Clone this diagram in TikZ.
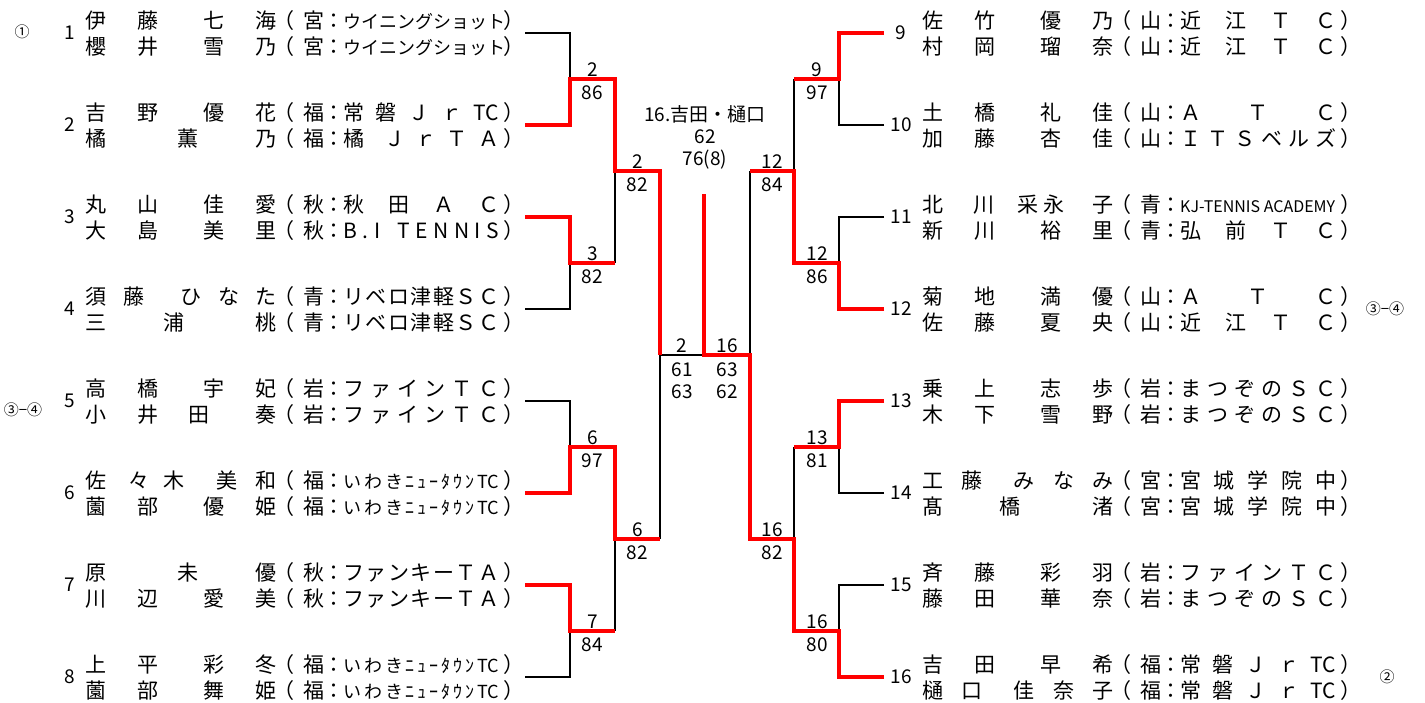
\documentclass[tikz,border=0pt]{standalone}
\usepackage{fontspec}
\setmainfont{Noto Sans CJK JP}

% one glyph (or group) placed at a fixed offset inside a row
\newcommand\at[2]{\rlap{\hspace*{#1pt}#2}}
\newcommand\nm[4]{\at{0}{#1}\at{52}{#2}\at{118}{#3}\at{170}{#4}}
\newcommand\hf{\hfill}
\newcommand\aff[2]{\at{188}{（}\at{218}{#1}\at{238}{：}\at{258}{\makebox[156pt][s]{#2}}\at{418}{）}}
\newcommand\sml{\fontsize{18}{18}\selectfont}
\newcommand\tny{\fontsize{16}{16}\selectfont}

% club names
\newcommand\clWin{\sml ウ\hf イ\hf ニ\hf ン\hf グ\hf シ\hf ョ\hf ッ\hf ト}
\newcommand\clJoban{常\hf 磐\hf Ｊ\hf ｒ\hf TC}
\newcommand\clIwaki{\sml い\hf わ\hf き\hf ﾆ\hf ｭ\hf ｰ\hf ﾀ\hf ｳ\hf ﾝ\hf TC}
\newcommand\clFine{フ\hf ァ\hf イ\hf ン\hf Ｔ\hf Ｃ}
\newcommand\clMatsu{ま\hf つ\hf ぞ\hf の\hf Ｓ\hf Ｃ}
\newcommand\clRibero{リ\hf ベ\hf ロ\hf 津\hf 軽\hf Ｓ\hf Ｃ}
\newcommand\clFunky{フ\hf ァ\hf ン\hf キ\hf ー\hf Ｔ\hf Ａ}
\newcommand\clOmi{近\hf 江\hf Ｔ\hf Ｃ}
\newcommand\clATC{Ａ\hf Ｔ\hf Ｃ}
\newcommand\clMiya{宮\hf 城\hf 学\hf 院\hf 中}

\tikzset{
  won/.style={red, line width=4pt},
  lost/.style={black, line width=2pt},
  pl/.style={font=\fontsize{21}{21}\selectfont, inner sep=0pt, anchor=base west},
  seed/.style={font=\fontsize{19}{19}\selectfont, inner sep=0pt},
  sc/.style={font=\fontsize{19}{21.5}\selectfont, inner sep=0pt, anchor=base, align=center},
  rank/.style={font=\fontsize{15}{15}\selectfont, inner sep=0pt}
}

\begin{document}
\begin{tikzpicture}[x=1pt, y=-1pt]
    \useasboundingbox (0,0) rectangle (1425,702);

    % left half players
    \node[seed] (k1) at (70,33) {1};
    \node[pl] (n1a) at (84.5,28) {\nm{伊}{藤}{七}{海}\aff{宮}{\clWin}};
    \node[pl] (n1b) at (84.5,54) {\nm{櫻}{井}{雪}{乃}\aff{宮}{\clWin}};
    \node[seed] (k2) at (70,125) {2};
    \node[pl] (n2a) at (84.5,120) {\nm{吉}{野}{優}{花}\aff{福}{\clJoban}};
    \node[pl] (n2b) at (84.5,146) {\at{0}{橘}\at{92}{薫}\at{170}{乃}\aff{福}{橘\hf\hf Ｊ\hf ｒ\hf Ｔ\hf Ａ}};
    \node[seed] (k3) at (70,217) {3};
    \node[pl] (n3a) at (84.5,212) {\nm{丸}{山}{佳}{愛}\aff{秋}{秋\hf 田\hf Ａ\hf Ｃ}};
    \node[pl] (n3b) at (84.5,238) {\nm{大}{島}{美}{里}\aff{秋}{B\hf.\hf I\hf\hf\hf T\hf E\hf N\hf N\hf I\hf S}};
    \node[seed] (k4) at (70,309) {4};
    \node[pl] (n4a) at (84.5,304) {\at{0}{須}\at{38.6}{藤}\at{95.4}{ひ}\at{133.3}{な}\at{170}{た}\aff{青}{\clRibero}};
    \node[pl] (n4b) at (84.5,330) {\at{0}{三}\at{78}{浦}\at{170}{桃}\aff{青}{\clRibero}};
    \node[seed] (k5) at (70,401) {5};
    \node[pl] (n5a) at (84.5,396) {\nm{高}{橋}{宇}{妃}\aff{岩}{\clFine}};
    \node[pl] (n5b) at (84.5,422) {\at{0}{小}\at{52}{井}\at{103}{田}\at{170}{奏}\aff{岩}{\clFine}};
    \node[seed] (k6) at (70,493) {6};
    \node[pl] (n6a) at (84.5,488) {\at{0}{佐}\at{43.7}{々}\at{78}{木}\at{131}{美}\at{170}{和}\aff{福}{\clIwaki}};
    \node[pl] (n6b) at (84.5,514) {\nm{薗}{部}{優}{姫}\aff{福}{\clIwaki}};
    \node[seed] (k7) at (70,585) {7};
    \node[pl] (n7a) at (84.5,580) {\at{0}{原}\at{92}{未}\at{170}{優}\aff{秋}{\clFunky}};
    \node[pl] (n7b) at (84.5,606) {\nm{川}{辺}{愛}{美}\aff{秋}{\clFunky}};
    \node[seed] (k8) at (70,677) {8};
    \node[pl] (n8a) at (84.5,672) {\nm{上}{平}{彩}{冬}\aff{福}{\clIwaki}};
    \node[pl] (n8b) at (84.5,698) {\nm{薗}{部}{舞}{姫}\aff{福}{\clIwaki}};

    % right half players
    \node[seed] (k9) at (901,33) {9};
    \node[pl] (n9a) at (921.5,28) {\nm{佐}{竹}{優}{乃}\aff{山}{\clOmi}};
    \node[pl] (n9b) at (921.5,54) {\nm{村}{岡}{瑠}{奈}\aff{山}{\clOmi}};
    \node[seed] (k10) at (901,125) {10};
    \node[pl] (n10a) at (921.5,120) {\nm{土}{橋}{礼}{佳}\aff{山}{\clATC}};
    \node[pl] (n10b) at (921.5,146) {\nm{加}{藤}{杏}{佳}\aff{山}{Ｉ\hf Ｔ\hf Ｓ\hf ベ\hf ル\hf ズ}};
    \node[seed] (k11) at (901,217) {11};
    \node[pl] (n11a) at (921.5,212) {\at{0}{北}\at{51}{川}\at{95}{采}\at{121}{永}\at{170}{子}\aff{青}{\tny KJ-TENNIS ACADEMY\hf}};
    \node[pl] (n11b) at (921.5,238) {\nm{新}{川}{裕}{里}\aff{青}{弘\hf 前\hf Ｔ\hf Ｃ}};
    \node[seed] (k12) at (901,309) {12};
    \node[pl] (n12a) at (921.5,304) {\nm{菊}{地}{満}{優}\aff{山}{\clATC}};
    \node[pl] (n12b) at (921.5,330) {\nm{佐}{藤}{夏}{央}\aff{山}{\clOmi}};
    \node[seed] (k13) at (901,401) {13};
    \node[pl] (n13a) at (921.5,396) {\nm{乗}{上}{志}{歩}\aff{岩}{\clMatsu}};
    \node[pl] (n13b) at (921.5,422) {\nm{木}{下}{雪}{野}\aff{岩}{\clMatsu}};
    \node[seed] (k14) at (901,493) {14};
    \node[pl] (n14a) at (921.5,488) {\at{0}{工}\at{39}{藤}\at{91}{み}\at{131}{な}\at{170}{み}\aff{宮}{\clMiya}};
    \node[pl] (n14b) at (921.5,514) {\at{0}{髙}\at{77}{橋}\at{170}{渚}\aff{宮}{\clMiya}};
    \node[seed] (k15) at (901,585) {15};
    \node[pl] (n15a) at (921.5,580) {\nm{斉}{藤}{彩}{羽}\aff{岩}{\clFine}};
    \node[pl] (n15b) at (921.5,606) {\nm{藤}{田}{華}{奈}\aff{岩}{\clMatsu}};
    \node[seed] (k16) at (901,677) {16};
    \node[pl] (n16a) at (921.5,672) {\nm{吉}{田}{早}{希}\aff{福}{\clJoban}};
    \node[pl] (n16b) at (921.5,698) {\at{0}{樋}\at{39}{口}\at{91}{佳}\at{131}{奈}\at{170}{子}\aff{福}{\clJoban}};

    % rank marks
    \node[rank] (r1st) at (22,32) {①};
    \node[rank] (r2nd) at (1387,677) {②};
    \node[rank] (r3l) at (23,410) {③−④};
    \node[rank] (r3r) at (1385,309) {③−④};

    % bracket points
    \coordinate (e1) at (525,33);  \coordinate (e2) at (525,125);
    \coordinate (e3) at (525,217); \coordinate (e4) at (525,309);
    \coordinate (e5) at (525,401); \coordinate (e6) at (525,493);
    \coordinate (e7) at (525,585); \coordinate (e8) at (525,677);
    \coordinate (e9) at (884,33);   \coordinate (e10) at (884,125);
    \coordinate (e11) at (884,217); \coordinate (e12) at (884,309);
    \coordinate (e13) at (884,401); \coordinate (e14) at (884,493);
    \coordinate (e15) at (884,585); \coordinate (e16) at (884,677);
    \coordinate (q1) at (570,79);  \coordinate (r1) at (615,79);
    \coordinate (q2) at (570,263); \coordinate (r2) at (615,263);
    \coordinate (q3) at (570,447); \coordinate (r3) at (615,447);
    \coordinate (q4) at (570,631); \coordinate (r4) at (615,631);
    \coordinate (q5) at (839,79);  \coordinate (r5) at (794,79);
    \coordinate (q6) at (839,263); \coordinate (r6) at (794,263);
    \coordinate (q7) at (839,447); \coordinate (r7) at (794,447);
    \coordinate (q8) at (839,631); \coordinate (r8) at (794,631);
    \coordinate (u1) at (615,171); \coordinate (v1) at (660,171);
    \coordinate (u2) at (615,539); \coordinate (v2) at (660,539);
    \coordinate (u3) at (794,171); \coordinate (v3) at (750,171);
    \coordinate (u4) at (794,539); \coordinate (v4) at (750,539);
    \coordinate (w1) at (660,355); \coordinate (w2) at (750,355);
    \coordinate (fc) at (704,355); \coordinate (ft) at (704,194);

    % losing lines
    \draw[lost] (e1) -| (q1);
    \draw[lost] (e4) -| (q2) (r2) -- (u1);
    \draw[lost] (e5) -| (q3);
    \draw[lost] (e8) -| (q4) (r4) -- (u2);
    \draw[lost] (v2) -- (w1) -- (fc);
    \draw[lost] (e10) -| (q5) (r5) -- (u3);
    \draw[lost] (e11) -| (q6);
    \draw[lost] (e14) -| (q7) (r7) -- (u4);
    \draw[lost] (e15) -| (q8);
    \draw[lost] (v3) -- (w2);

    % winning lines
    \draw[won] (e2) -| (q1) -- (r1) -- (u1) -- (v1) -- (w1);
    \draw[won] (e3) -| (q2) -- (r2);
    \draw[won] (e6) -| (q3) -- (r3) -- (u2) -- (v2);
    \draw[won] (e7) -| (q4) -- (r4);
    \draw[won] (e9) -| (q5) -- (r5);
    \draw[won] (e12) -| (q6) -- (r6) -- (u3) -- (v3);
    \draw[won] (e13) -| (q7) -- (r7);
    \draw[won] (e16) -| (q8) -- (r8) -- (u4) -- (v4) -- (w2) -- (fc) -- (ft);

    % scores
    \node[sc] (s1a) at (592.5,76) {2};   \node[sc] (s1b) at (592.5,99) {86};
    \node[sc] (s2a) at (592.5,260) {3};  \node[sc] (s2b) at (592.5,283) {82};
    \node[sc] (s3a) at (592.5,444) {6};  \node[sc] (s3b) at (592.5,467) {97};
    \node[sc] (s4a) at (592.5,628) {7};  \node[sc] (s4b) at (592.5,651) {84};
    \node[sc] (s5a) at (637.5,168) {2};  \node[sc] (s5b) at (637.5,191) {82};
    \node[sc] (s6a) at (637.5,536) {6};  \node[sc] (s6b) at (637.5,559) {82};
    \node[sc] (s7a) at (682,352) {2};    \node[sc] (s7b) at (682,398) {61\\63};
    \node[sc] (s8a) at (727.5,352) {16}; \node[sc] (s8b) at (727.5,398) {63\\62};
    \node[sc] (s9a) at (772,168) {12};   \node[sc] (s9b) at (772,191) {84};
    \node[sc] (s10a) at (772,536) {16};  \node[sc] (s10b) at (772,559) {82};
    \node[sc] (s11a) at (817,76) {9};    \node[sc] (s11b) at (817,99) {97};
    \node[sc] (s12a) at (817,260) {12};  \node[sc] (s12b) at (817,283) {86};
    \node[sc] (s13a) at (817,444) {13};  \node[sc] (s13b) at (817,467) {81};
    \node[sc] (s14a) at (817,628) {16};  \node[sc] (s14b) at (817,651) {80};

    % champion
    \node[sc, font=\fontsize{19}{22}\selectfont] (champ) at (705,165.5) {16.吉田・樋口\\62\\76(8)};
\end{tikzpicture}
\end{document}
